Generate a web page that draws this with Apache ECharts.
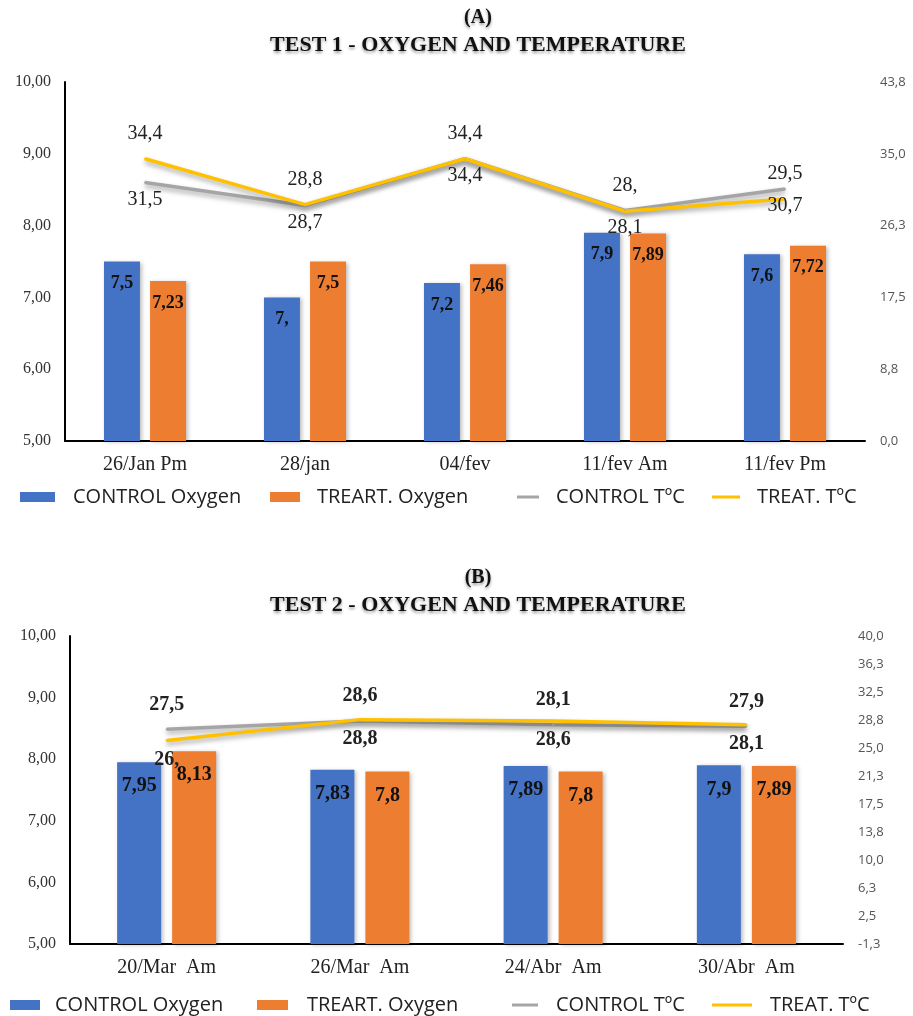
<!DOCTYPE html>
<html>
<head>
<meta charset="utf-8">
<script src="https://cdn.jsdelivr.net/npm/echarts@6/dist/echarts.min.js"></script>
<style>
  html, body { margin: 0; padding: 0; background: #fff; }
  #chart { width: 913px; height: 1016px; }
</style>
</head>
<body>
<div id="chart"></div>
<script>
// Test 1 (A)
const catsA = ['26/Jan Pm', '28/jan', '04/fev', '11/fev Am', '11/fev Pm'];
const ctrlOxyA = [7.5, 7.0, 7.2, 7.9, 7.6];
const treatOxyA = [7.23, 7.5, 7.46, 7.89, 7.72];
const ctrlTempA = [31.5, 28.7, 34.4, 28.1, 30.7];
const treatTempA = [34.4, 28.8, 34.4, 28.0, 29.5];
const tempTicksA = [0, 8.75, 17.5, 26.25, 35, 43.75];

// Test 2 (B)
const catsB = ['20/Mar  Am', '26/Mar  Am', '24/Abr  Am', '30/Abr  Am'];
const ctrlOxyB = [7.95, 7.83, 7.89, 7.9];
const treatOxyB = [8.13, 7.8, 7.8, 7.89];
const ctrlTempB = [27.5, 28.6, 28.1, 27.9];
const treatTempB = [26.0, 28.8, 28.6, 28.1];
const tempTicksB = [-1.25, 2.5, 6.25, 10, 13.75, 17.5, 21.25, 25, 28.75, 32.5, 36.25, 40];

const oxyTicks = [5, 6, 7, 8, 9, 10];

const NAMES = ['CONTROL Oxygen', 'TREART. Oxygen', 'CONTROL TºC', 'TREAT. TºC'];
const BLUE = '#4472C4', ORANGE = '#ED7D31', GRAY = '#A5A5A5', YELLOW = '#FFC000';
const SERIF = '"Liberation Serif", "Times New Roman", serif';
const SANS = '"Open Sans", "Liberation Sans", sans-serif';

// data labels: whole numbers keep a trailing comma, decimals use a comma
function fmt(v) {
  return Number.isInteger(v) ? v + ',' : String(v).replace('.', ',');
}
function fixed(dec) {
  return v => v.toFixed(dec).replace('.', ',');
}

const chart = echarts.init(document.getElementById('chart'), null, { renderer: 'canvas' });

// two-line heading with a soft drop shadow
function heading(letter, text, y) {
  const base = { textAlign: 'center', textVerticalAlign: 'middle', fill: '#111',
    textShadowColor: 'rgba(0,0,0,0.4)', textShadowBlur: 3, textShadowOffsetY: 2 };
  return [
    { type: 'text', x: 478, y: y, silent: true,
      style: Object.assign({ text: letter, font: 'bold 20px ' + SERIF }, base) },
    { type: 'text', x: 478, y: y + 27, silent: true,
      style: Object.assign({ text: text, font: 'bold 22px ' + SERIF }, base) }
  ];
}

function legends(top, spec) {
  return spec.map((s, i) => ({
    left: s.left, top: top - 10, padding: 0,
    data: [{ name: NAMES[i], icon: 'rect' }],
    itemWidth: s.w, itemHeight: s.h,
    textStyle: { fontFamily: SANS, fontSize: 20, color: '#222', lineHeight: 20, padding: [0, 0, 0, s.pad] },
    selectedMode: false
  }));
}

const xAxisCommon = {
  type: 'category',
  axisLine: { onZero: false, lineStyle: { color: '#000', width: 2 } },
  axisTick: { show: false },
  axisLabel: { fontFamily: SERIF, fontSize: 20, color: '#222', margin: 14 },
  splitLine: { show: false }
};

function leftAxis(gridIndex) {
  return {
    type: 'value', gridIndex, min: 5, max: 10, interval: 1, position: 'left',
    axisLine: { show: true, lineStyle: { color: '#000', width: 2 } },
    axisTick: { show: false },
    splitLine: { show: false },
    axisLabel: { fontFamily: SERIF, fontSize: 16, color: '#333', margin: 14, formatter: fixed(2), customValues: oxyTicks }
  };
}
function rightAxis(gridIndex, ticks, interval) {
  return {
    type: 'value', gridIndex, min: ticks[0], max: ticks[ticks.length - 1], interval, position: 'right',
    axisLine: { show: false },
    axisTick: { show: false },
    splitLine: { show: false },
    axisLabel: { fontFamily: SANS, fontSize: 13, color: '#555', margin: 15, formatter: fixed(1), customValues: ticks }
  };
}

function barSeries(name, data, xi, yi, color, width, gap, fontSize, dist) {
  return {
    type: 'bar', name, data, xAxisIndex: xi, yAxisIndex: yi, barWidth: width, barGap: gap,
    itemStyle: { color, shadowColor: 'rgba(0,0,0,0.25)', shadowBlur: 4, shadowOffsetX: 2, shadowOffsetY: 1 },
    label: { show: true, position: 'insideTop', distance: dist, fontFamily: SERIF, fontWeight: 'bold', fontSize, color: '#111', formatter: p => fmt(p.value) },
    silent: true
  };
}
function lineSeries(name, data, xi, yi, color, pos, dist, bold) {
  return {
    type: 'line', name, data, xAxisIndex: xi, yAxisIndex: yi, color,
    symbol: 'circle', symbolSize: 2,
    lineStyle: { color, width: 3.5, shadowColor: 'rgba(0,0,0,0.35)', shadowBlur: 5, shadowOffsetY: 3 },
    itemStyle: { color },
    label: { show: true, position: pos, distance: dist, fontFamily: SERIF, fontWeight: bold ? 'bold' : 'normal', fontSize: 20, color: '#222', formatter: p => fmt(p.value) },
    silent: true
  };
}

const option = {
  animation: false,
  backgroundColor: '#fff',
  graphic: heading('(A)', 'TEST 1 - OXYGEN AND TEMPERATURE', 18)
    .concat(heading('(B)', 'TEST 2 - OXYGEN AND TEMPERATURE', 578)),
  legend: legends(497, [
    { left: 20, w: 35, h: 10, pad: 13 },
    { left: 270, w: 30, h: 10, pad: 12 },
    { left: 517, w: 22, h: 3, pad: 12 },
    { left: 712, w: 28, h: 3, pad: 12 }
  ]).concat(legends(1005, [
    { left: 10, w: 30, h: 10, pad: 10 },
    { left: 257, w: 31, h: 10, pad: 14 },
    { left: 512, w: 26, h: 3, pad: 13 },
    { left: 712, w: 40, h: 3, pad: 13 }
  ])),
  grid: [
    { left: 65, width: 800, top: 82, height: 359 },
    { left: 70, width: 773, top: 636, height: 308 }
  ],
  xAxis: [
    Object.assign({ gridIndex: 0, data: catsA }, xAxisCommon),
    Object.assign({ gridIndex: 1, data: catsB }, xAxisCommon)
  ],
  yAxis: [
    leftAxis(0),
    rightAxis(0, tempTicksA, 8.75),
    leftAxis(1),
    rightAxis(1, tempTicksB, 3.75)
  ],
  series: [
    barSeries(NAMES[0], ctrlOxyA, 0, 0, BLUE, 36, '28%', 18, 13),
    barSeries(NAMES[1], treatOxyA, 0, 0, ORANGE, 36, '28%', 18, 13),
    lineSeries(NAMES[2], ctrlTempA, 0, 1, GRAY, 'bottom', 6, false),
    lineSeries(NAMES[3], treatTempA, 0, 1, YELLOW, 'top', 14, false),
    barSeries(NAMES[0], ctrlOxyB, 1, 2, BLUE, 44, '25%', 20, 14),
    barSeries(NAMES[1], treatOxyB, 1, 2, ORANGE, 44, '25%', 20, 14),
    lineSeries(NAMES[2], ctrlTempB, 1, 3, GRAY, 'top', 14, true),
    lineSeries(NAMES[3], treatTempB, 1, 3, YELLOW, 'bottom', 8, true)
  ]
};

chart.setOption(option);
</script>
</body>
</html>
